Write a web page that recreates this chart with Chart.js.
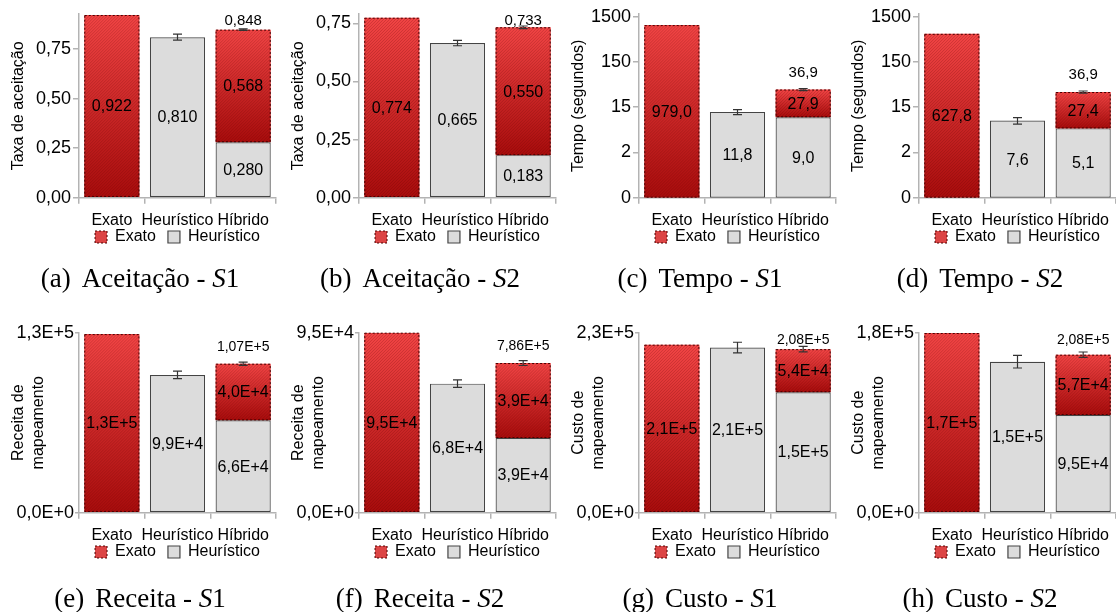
<!DOCTYPE html>
<html><head><meta charset="utf-8">
<script src="https://cdn.jsdelivr.net/npm/chart.js@4.4.1/dist/chart.umd.min.js"></script>
<style>
html,body{margin:0;padding:0;background:#fff;width:1116px;height:612px;overflow:hidden;position:relative;}
.panel{position:absolute;width:280px;}
.panel canvas{display:block;}
.cap{position:absolute;width:280px;height:32px;line-height:32px;text-align:center;font-family:'Liberation Serif','Times New Roman',serif;font-size:27px;color:#000;white-space:nowrap;}
.cap .lbl{margin-right:11px;}
</style></head><body>
<script>
// ---------- data ----------
const categories = ['Exato', 'Heurístico', 'Híbrido'];
const seriesNames = ['Exato', 'Heurístico'];

// (a) Aceitação - S1
const aceitS1Exato = [0.922, null, 0.568];
const aceitS1Heur  = [null, 0.810, 0.280];
const aceitS1Err   = [null, 0.015, 0.004];
const aceitS1ExatoLbl = ['0,922', null, '0,568'];
const aceitS1HeurLbl  = [null, '0,810', '0,280'];
const aceitS1Total = '0,848';
// (b) Aceitação - S2
const aceitS2Exato = [0.774, null, 0.550];
const aceitS2Heur  = [null, 0.665, 0.183];
const aceitS2Err   = [null, 0.0115, 0.0055];
const aceitS2ExatoLbl = ['0,774', null, '0,550'];
const aceitS2HeurLbl  = [null, '0,665', '0,183'];
const aceitS2Total = '0,733';
// (c) Tempo - S1
const tempoS1Exato = [979.0, null, 27.9];
const tempoS1Heur  = [null, 11.8, 9.0];
const tempoS1Err   = [null, 1.5, 1.9];
const tempoS1ExatoLbl = ['979,0', null, '27,9'];
const tempoS1HeurLbl  = [null, '11,8', '9,0'];
const tempoS1Total = '36,9';
// (d) Tempo - S2
const tempoS2Exato = [627.8, null, 27.4];
const tempoS2Heur  = [null, 7.6, 5.1];
const tempoS2Err   = [null, 1.25, 1.7];
const tempoS2ExatoLbl = ['627,8', null, '27,4'];
const tempoS2HeurLbl  = [null, '7,6', '5,1'];
const tempoS2Total = '36,9';
// (e) Receita - S1
const receitaS1Exato = [129000, null, 40900];
const receitaS1Heur  = [null, 99500, 66700];
const receitaS1Err   = [null, 2700, 1200];
const receitaS1ExatoLbl = ['1,3E+5', null, '4,0E+4'];
const receitaS1HeurLbl  = [null, '9,9E+4', '6,6E+4'];
const receitaS1Total = '1,07E+5';
// (f) Receita - S2
const receitaS2Exato = [95000, null, 39600];
const receitaS2Heur  = [null, 68100, 39400];
const receitaS2Err   = [null, 2000, 1300];
const receitaS2ExatoLbl = ['9,5E+4', null, '3,9E+4'];
const receitaS2HeurLbl  = [null, '6,8E+4', '3,9E+4'];
const receitaS2Total = '7,86E+5';
// (g) Custo - S1
const custoS1Exato = [214700, null, 55000];
const custoS1Heur  = [null, 211000, 154000];
const custoS1Err   = [null, 6800, 3600];
const custoS1ExatoLbl = ['2,1E+5', null, '5,4E+4'];
const custoS1HeurLbl  = [null, '2,1E+5', '1,5E+5'];
const custoS1Total = '2,08E+5';
// (h) Custo - S2
const custoS2Exato = [179700, null, 60300];
const custoS2Heur  = [null, 151000, 97700];
const custoS2Err   = [null, 6300, 2700];
const custoS2ExatoLbl = ['1,7E+5', null, '5,7E+4'];
const custoS2HeurLbl  = [null, '1,5E+5', '9,5E+4'];
const custoS2Total = '2,08E+5';

// axis ticks
const aceitTickVals = [0, 0.25, 0.5, 0.75];
const aceitTickLbls = ['0,00', '0,25', '0,50', '0,75'];
const aceitS1Max = 0.927;
const aceitS2Max = 0.79;
const tempoTickVals = [0.15, 1.5, 15, 150, 1500];
const tempoTickLbls = ['0', '2', '15', '150', '1500'];
const tempoMin = 0.15, tempoMax = 1722;
const receitaS1TickVals = [0, 130000]; const receitaS1TickLbls = ['0,0E+0', '1,3E+5'];
const receitaS2TickVals = [0, 95000];  const receitaS2TickLbls = ['0,0E+0', '9,5E+4'];
const custoS1TickVals = [0, 230000];   const custoS1TickLbls = ['0,0E+0', '2,3E+5'];
const custoS2TickVals = [0, 180000];   const custoS2TickLbls = ['0,0E+0', '1,8E+5'];

// axis titles & captions
const yTitleAceit = 'Taxa de aceitação';
const yTitleTempo = 'Tempo (segundos)';
const yTitleReceita = ['Receita de', 'mapeamento'];
const yTitleCusto = ['Custo de', 'mapeamento'];
const captionLetters = ['(a)', '(b)', '(c)', '(d)', '(e)', '(f)', '(g)', '(h)'];
const captionTitles = ['Aceitação', 'Aceitação', 'Tempo', 'Tempo', 'Receita', 'Receita', 'Custo', 'Custo'];
const captionScen = ['1', '2', '1', '2', '1', '2', '1', '2'];

// ---------- panels ----------
const panels = [
  {exato: aceitS1Exato, heur: aceitS1Heur, err: aceitS1Err, exL: aceitS1ExatoLbl, heL: aceitS1HeurLbl, total: aceitS1Total, title: yTitleAceit, type: 'linear', min: 0, max: aceitS1Max, tv: aceitTickVals, tl: aceitTickLbls},
  {exato: aceitS2Exato, heur: aceitS2Heur, err: aceitS2Err, exL: aceitS2ExatoLbl, heL: aceitS2HeurLbl, total: aceitS2Total, title: yTitleAceit, type: 'linear', min: 0, max: aceitS2Max, tv: aceitTickVals, tl: aceitTickLbls},
  {exato: tempoS1Exato, heur: tempoS1Heur, err: tempoS1Err, exL: tempoS1ExatoLbl, heL: tempoS1HeurLbl, total: tempoS1Total, title: yTitleTempo, type: 'logarithmic', min: tempoMin, max: tempoMax, tv: tempoTickVals, tl: tempoTickLbls},
  {exato: tempoS2Exato, heur: tempoS2Heur, err: tempoS2Err, exL: tempoS2ExatoLbl, heL: tempoS2HeurLbl, total: tempoS2Total, title: yTitleTempo, type: 'logarithmic', min: tempoMin, max: tempoMax, tv: tempoTickVals, tl: tempoTickLbls},
  {exato: receitaS1Exato, heur: receitaS1Heur, err: receitaS1Err, exL: receitaS1ExatoLbl, heL: receitaS1HeurLbl, total: receitaS1Total, title: yTitleReceita, type: 'linear', min: 0, max: receitaS1TickVals[1], tv: receitaS1TickVals, tl: receitaS1TickLbls},
  {exato: receitaS2Exato, heur: receitaS2Heur, err: receitaS2Err, exL: receitaS2ExatoLbl, heL: receitaS2HeurLbl, total: receitaS2Total, title: yTitleReceita, type: 'linear', min: 0, max: receitaS2TickVals[1], tv: receitaS2TickVals, tl: receitaS2TickLbls},
  {exato: custoS1Exato, heur: custoS1Heur, err: custoS1Err, exL: custoS1ExatoLbl, heL: custoS1HeurLbl, total: custoS1Total, title: yTitleCusto, type: 'linear', min: 0, max: custoS1TickVals[1], tv: custoS1TickVals, tl: custoS1TickLbls},
  {exato: custoS2Exato, heur: custoS2Heur, err: custoS2Err, exL: custoS2ExatoLbl, heL: custoS2HeurLbl, total: custoS2Total, title: yTitleCusto, type: 'linear', min: 0, max: custoS2TickVals[1], tv: custoS2TickVals, tl: custoS2TickLbls}
];

Chart.defaults.font.family = "'Liberation Sans', Arial, sans-serif";
Chart.defaults.color = '#000';

const AXIS = '#b3b3b3';
const FONT = "'Liberation Sans', Arial, sans-serif";
const LEG_PAD = 12;
const panelByCanvas = new Map();

function redFill(p) {
  return (ctx) => {
    const chart = ctx.chart, ys = chart.scales && chart.scales.y;
    if (ctx.type !== 'data' || !ys || !chart.chartArea) return '#d62a2a';
    const i = ctx.dataIndex, v = p.exato[i];
    if (v == null) return '#d62a2a';
    const b = p.heur[i] || 0;
    const yTop = ys.getPixelForValue(b + v), yBot = ys.getPixelForValue(b);
    if (!isFinite(yTop) || !isFinite(yBot) || yTop === yBot) return '#d62a2a';
    const g = chart.ctx.createLinearGradient(0, yTop, 0, yBot);
    g.addColorStop(0, '#f24545');
    g.addColorStop(1, '#a80c0c');
    return g;
  };
}

const overlay = {
  id: 'overlay',
  afterLayout(chart) {
    const lg = chart.legend;
    if (!lg || !chart.chartArea) return;
    const target = chart.chartArea.bottom + 39.3 - 8 - LEG_PAD;
    const d = lg.top - target;
    lg.top -= d; lg.bottom -= d;
  },
  afterDatasetsDraw(chart) {
    const info = panelByCanvas.get(chart.canvas);
    if (!info) return;
    const p = info.p, row = info.row;
    const ctx = chart.ctx, ys = chart.scales.y, area = chart.chartArea;
    const metaH = chart.getDatasetMeta(0), metaE = chart.getDatasetMeta(1);
    // hatch + dashed border on red bars
    metaE.data.forEach((el, i) => {
      if (p.exato[i] == null) return;
      const {x, y, base, width} = el.getProps(['x', 'y', 'base', 'width'], true);
      const l = x - width / 2, r = x + width / 2, t = Math.min(y, base), bt = Math.max(y, base), h = bt - t;
      ctx.save();
      ctx.beginPath(); ctx.rect(l, t, r - l, h); ctx.clip();
      ctx.strokeStyle = 'rgba(90,0,0,0.20)'; ctx.lineWidth = 1;
      ctx.beginPath();
      for (let k = -h; k < r - l; k += 3) { ctx.moveTo(l + k, bt); ctx.lineTo(l + k + h, t); }
      ctx.stroke();
      ctx.restore();
      ctx.save();
      ctx.strokeStyle = '#4a0000'; ctx.lineWidth = 1; ctx.setLineDash([2, 2]);
      ctx.strokeRect(l + 0.5, t + 0.5, r - l - 1, h - 1);
      ctx.restore();
    });
    // error bars on stack totals
    ctx.save();
    ctx.strokeStyle = '#333'; ctx.lineWidth = 1.2;
    p.err.forEach((e, i) => {
      if (e == null) return;
      const tot = (p.heur[i] || 0) + (p.exato[i] || 0);
      const el = (p.heur[i] != null) ? metaH.data[i] : metaE.data[i];
      const x = el.x;
      const y1 = ys.getPixelForValue(tot + e), y2 = ys.getPixelForValue(tot - e);
      ctx.beginPath();
      ctx.moveTo(x, y1); ctx.lineTo(x, y2);
      ctx.moveTo(x - 4.5, y1); ctx.lineTo(x + 4.5, y1);
      ctx.moveTo(x - 4.5, y2); ctx.lineTo(x + 4.5, y2);
      ctx.stroke();
    });
    ctx.restore();
    // value labels
    ctx.save();
    ctx.fillStyle = '#000'; ctx.textAlign = 'center'; ctx.textBaseline = 'middle';
    ctx.font = '16px ' + FONT;
    [[metaH, p.heL, p.heur], [metaE, p.exL, p.exato]].forEach(([meta, lbls, vals]) => {
      meta.data.forEach((el, i) => {
        if (vals[i] == null || lbls[i] == null) return;
        const {x, y, base} = el.getProps(['x', 'y', 'base'], true);
        ctx.fillText(lbls[i], x, (y + base) / 2 + 1);
      });
    });
    // total label over hybrid bar
    const hi = 2;
    const tot = (p.heur[hi] || 0) + (p.exato[hi] || 0);
    const yT = ys.getPixelForValue(tot);
    ctx.font = (row === 0 ? '15px ' : '14px ') + FONT;
    ctx.fillText(p.total, metaE.data[hi].x, Math.max(yT - 17, area.top + 7));
    ctx.restore();
  }
};

panels.forEach((p, idx) => {
  const row = Math.floor(idx / 4), col = idx % 4;
  const div = document.createElement('div');
  div.className = 'panel';
  div.style.left = (col * 280) + 'px';
  div.style.top = (row === 0 ? 0 : 320) + 'px';
  const cv = document.createElement('canvas');
  const H = row === 0 ? 269 : 265;
  cv.width = 280; cv.height = H;
  cv.style.width = '280px'; cv.style.height = H + 'px';
  div.appendChild(cv);
  document.body.appendChild(div);
  panelByCanvas.set(cv, {p, row});

  const cap = document.createElement('div');
  cap.className = 'cap';
  cap.style.left = (col * 280) + 'px';
  cap.style.top = (row === 0 ? 262 : 582) + 'px';
  cap.innerHTML = '<span class="lbl">' + captionLetters[idx] + '</span>' + captionTitles[idx] + ' - <i>S</i>' + captionScen[idx];
  document.body.appendChild(cap);

  new Chart(cv, {
    type: 'bar',
    data: {
      labels: categories,
      datasets: [
        {label: seriesNames[1], data: p.heur, backgroundColor: '#dcdcdc', borderColor: '#444', borderWidth: 1.2, borderSkipped: false, barPercentage: 0.84, categoryPercentage: 1},
        {label: seriesNames[0], data: p.exato, backgroundColor: redFill(p), borderWidth: 0, barPercentage: 0.84, categoryPercentage: 1}
      ]
    },
    options: {
      responsive: false,
      animation: false,
      devicePixelRatio: 1,
      layout: {padding: row === 0 ? {top: 14, right: 4, bottom: 1.3, left: 0} : {top: 12.7, right: 4, bottom: 2.3, left: 0}},
      plugins: {
        tooltip: {enabled: false},
        legend: {
          position: 'bottom', fullSize: false,
          labels: {
            font: {size: 16}, color: '#000', boxWidth: 12, boxHeight: 12, padding: LEG_PAD,
            generateLabels: () => [
              {text: seriesNames[0], fillStyle: '#dc4545', strokeStyle: '#4a0000', lineWidth: 1, lineDash: [2, 2], hidden: false, datasetIndex: 1, fontColor: '#000'},
              {text: seriesNames[1], fillStyle: '#dcdcdc', strokeStyle: '#444', lineWidth: 1.2, hidden: false, datasetIndex: 0, fontColor: '#000'}
            ]
          }
        }
      },
      scales: {
        x: {
          stacked: true,
          ticks: {font: {size: 16}, color: '#000', padding: 7, maxRotation: 0, autoSkip: false},
          grid: {drawOnChartArea: false, drawTicks: true, tickLength: 6, color: AXIS, lineWidth: 1.5, offset: true},
          border: {display: true, color: AXIS, width: 1.5},
          afterFit: s => { s.height = 32; }
        },
        y: {
          type: p.type, stacked: true, min: p.min, max: p.max,
          afterBuildTicks: s => { s.ticks = p.tv.map(v => ({value: v})); },
          ticks: {callback: (v, i) => p.tl[i], font: {size: 18}, color: '#000', padding: row === 0 ? 2 : 1, autoSkip: false, maxRotation: 0},
          grid: {drawOnChartArea: false, drawTicks: true, tickLength: row === 0 ? 6 : 4, color: AXIS, lineWidth: 1.5},
          border: {display: true, color: AXIS, width: 1.5},
          title: {display: true, text: p.title, font: {size: 16}, color: '#000', padding: {top: 9.4, bottom: 0}},
          afterFit: s => { s.width = 79; }
        }
      }
    },
    plugins: [overlay]
  });
});
</script>
</body></html>
